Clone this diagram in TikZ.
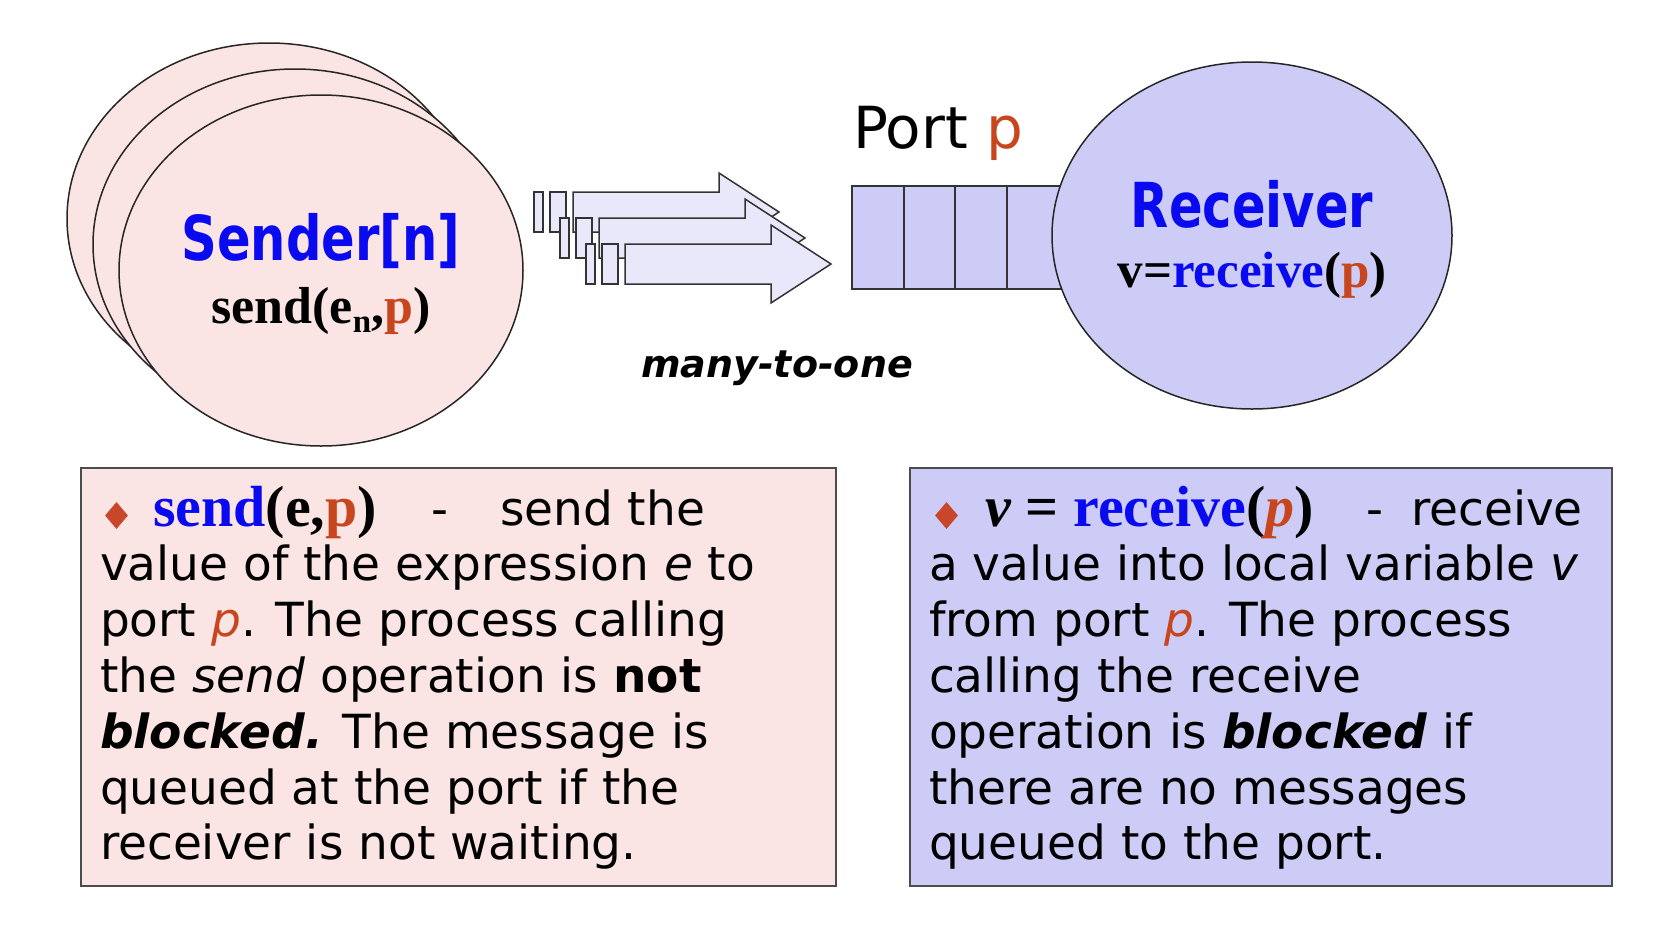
\documentclass[tikz,border=0pt]{standalone}
\usepackage{fontspec}
\setmainfont{DejaVu Sans}
\newfontfamily\headfont[FakeStretch=0.8]{DejaVu Sans}
\newfontfamily\codefont{Liberation Serif}
\usetikzlibrary{shapes.geometric}

\definecolor{pinkfill}{HTML}{FBE4E4}
\definecolor{lavfill}{HTML}{CCCCF7}
\definecolor{arrfill}{HTML}{E8E8FA}
\definecolor{kwblue}{HTML}{0A0AF0}
\definecolor{portred}{HTML}{C8461E}
\definecolor{gemred}{HTML}{C8462A}
\definecolor{edgegray}{HTML}{333333}

\newcommand\bodysize{\fontsize{47}{56}\selectfont}

\tikzset{
  proc/.style={ellipse, draw=black!85, line width=1.5pt, fill=pinkfill,
    minimum width=404pt, minimum height=351pt, inner sep=0pt},
  recv/.style={ellipse, draw=black!85, line width=1.5pt, fill=lavfill,
    minimum width=400pt, minimum height=347pt, inner sep=0pt},
  notebox/.style={rectangle, draw=black!70, line width=2pt, inner sep=0pt},
  cell/.style={draw=edgegray, line width=2pt, fill=lavfill},
  msgarrow/.style={draw=edgegray, line width=1.5pt, fill=arrfill, line join=miter},
  gem/.style={diamond, fill=gemred, minimum width=23pt, minimum height=27pt, inner sep=0pt},
  txt/.style={anchor=base west, inner sep=0pt, outer sep=0pt},
  ctxt/.style={anchor=base, inner sep=0pt, outer sep=0pt},
  head/.style={font=\headfont\bfseries\fontsize{62}{62}\selectfont, text=kwblue},
  call/.style={font=\codefont\bfseries\fontsize{#1}{#1}\selectfont},
}

\begin{document}
\begin{tikzpicture}[x=1pt, y=-1pt]
\useasboundingbox (0,0) rectangle (1678,946);

% stacked sender processes
\node[proc] (s1) at (269,218.5) {};
\node[proc] (s2) at (295,244.5) {};
\node[proc] (s3) at (321,270.5) {};
\node[ctxt, head] (sname) at (321,260) {Sender[n]};
\node[ctxt, call=52] (scall) at (321,323)
  {send(e\raisebox{-9pt}{\fontsize{33}{33}\selectfont n},{\color{portred}p})};

% messages travelling to the port
\foreach \d in {0,26,52} {
  \draw[msgarrow] (534+\d,192+\d) rectangle (543+\d,232+\d);
  \draw[msgarrow] (550+\d,192+\d) rectangle (566+\d,232+\d);
  \draw[msgarrow] (573+\d,192+\d) -- (719+\d,192+\d) -- (719+\d,173+\d)
    -- (779+\d,212+\d) -- (719+\d,251+\d) -- (719+\d,232+\d)
    -- (573+\d,232+\d) -- cycle;
}
\node[ctxt, font=\bfseries\itshape\fontsize{38}{38}\selectfont] (mto) at (777,377) {many-to-one};

% port queue
\draw[cell] (852,186) rectangle (1064,289);
\draw[edgegray, line width=2pt] (903.5,186) -- (903.5,289)
  (955,186) -- (955,289) (1007,186) -- (1007,289);
\node[txt, font=\fontsize{58}{58}\selectfont] (portlbl) at (853,148) {Port {\color{portred}p}};

% receiver process
\node[recv] (r) at (1252,235.5) {};
\node[ctxt, head] (rname) at (1252,227) {Receiver};
\node[ctxt, call=51] (rcall) at (1252,287)
  {v={\color{kwblue}receive}({\color{portred}p})};

% explanation of send
\node[notebox, fill=pinkfill, minimum width=755pt, minimum height=418pt] (sendbox) at (458.5,677) {};
\node[gem] (sgem) at (116.5,515.5) {};
\node[txt, call=58] (s1a) at (153,526)
  {{\color{kwblue}send}(e,{\color{portred}p})};
\node[txt, font=\bodysize] (s1b) at (431,525) {-};
\node[txt, font=\bodysize] (s1c) at (500,525) {send the};
\node[txt, font=\bodysize] (s2l) at (100,580.8) {value of the expression \textit{e} to};
\node[txt, font=\bodysize] (s3l) at (100,636.6) {port \textit{\color{portred}p}. The process calling};
\node[txt, font=\bodysize] (s4l) at (100,692.4) {the \textit{send} operation is \textbf{not}};
\node[txt, font=\bodysize] (s5l) at (100,748.2) {\textbf{\textit{blocked.}} The message is};
\node[txt, font=\bodysize] (s6l) at (100,804) {queued at the port if the};
\node[txt, font=\bodysize] (s7l) at (100,859.8) {receiver is not waiting.};

% explanation of receive
\node[notebox, fill=lavfill, minimum width=702pt, minimum height=418pt] (recvbox) at (1261,677) {};
\node[gem] (rgem) at (946.5,515.5) {};
\node[txt, call=58] (r1a) at (985,526)
  {\textit{v} = {\color{kwblue}receive}(\textit{\color{portred}p})};
\node[txt, font=\bodysize] (r1b) at (1366,525) {-};
\node[txt, font=\bodysize] (r1c) at (1411,525) {receive};
\node[txt, font=\bodysize] (r2l) at (929,580.8) {a value into local variable \textit{v}};
\node[txt, font=\bodysize] (r3l) at (929,636.6) {from port \textit{\color{portred}p}. The process};
\node[txt, font=\bodysize] (r4l) at (929,692.4) {calling the receive};
\node[txt, font=\bodysize] (r5l) at (929,748.2) {operation is \textbf{\textit{blocked}} if};
\node[txt, font=\bodysize] (r6l) at (929,804) {there are no messages};
\node[txt, font=\bodysize] (r7l) at (929,859.8) {queued to the port.};
\end{tikzpicture}
\end{document}
